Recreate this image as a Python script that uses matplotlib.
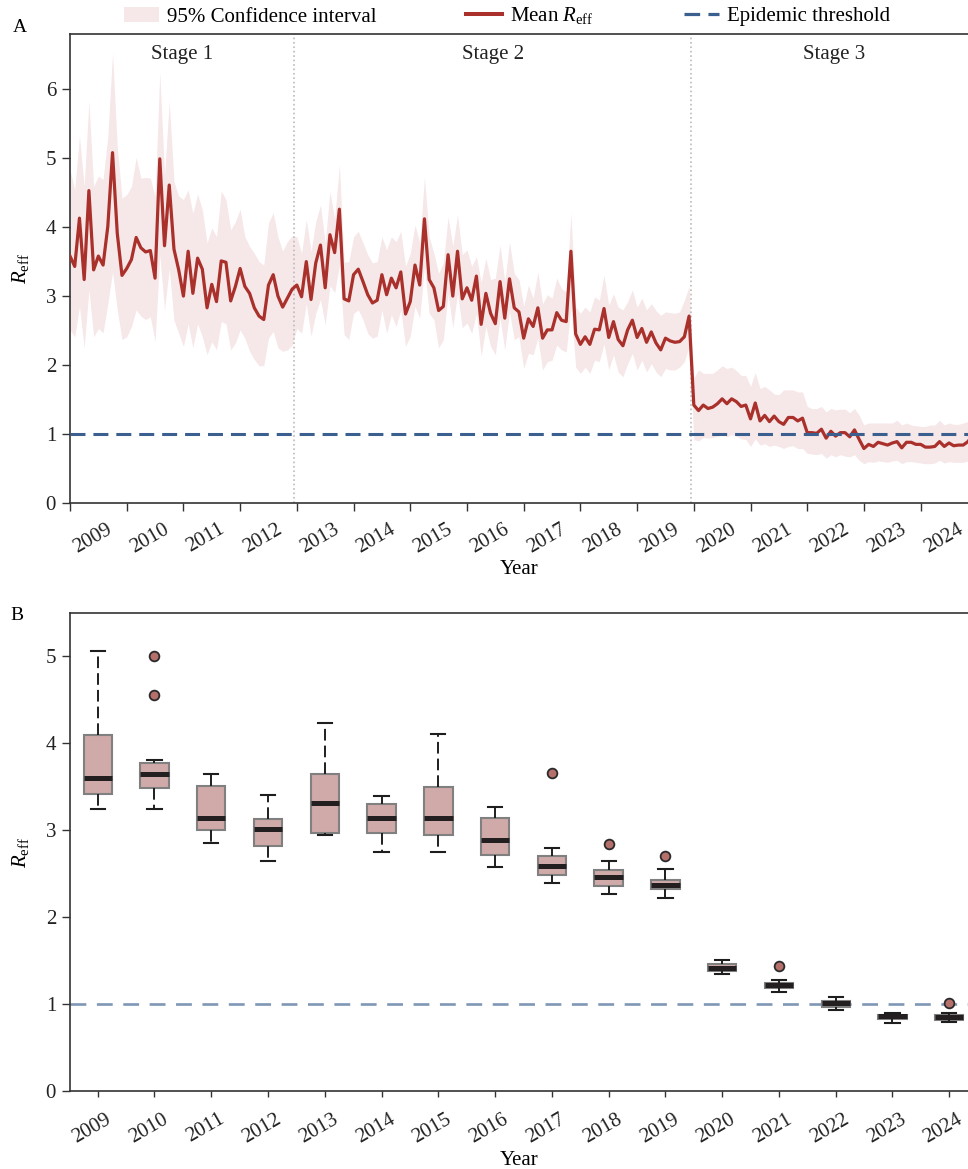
import matplotlib
matplotlib.use("Agg")
import matplotlib.pyplot as plt
import matplotlib.transforms as mtransforms
import numpy as np
from matplotlib.lines import Line2D
from matplotlib.patches import Patch

plt.rcParams["font.family"] = ["Liberation Serif", "DejaVu Serif"]
plt.rcParams["mathtext.fontset"] = "custom"
plt.rcParams["mathtext.rm"] = "Liberation Serif"
plt.rcParams["mathtext.it"] = "Liberation Serif:italic"

# monthly mean R_eff, Jan 2009 - Dec 2024 (one row per year)
mean_reff = [
    3.58, 3.43, 4.13, 3.24, 4.53, 3.38, 3.58, 3.45, 4.01, 5.08, 3.91, 3.30,
    3.40, 3.53, 3.85, 3.70, 3.64, 3.66, 3.26, 4.99, 3.73, 4.61, 3.68, 3.38,
    3.00, 3.65, 3.04, 3.55, 3.39, 2.83, 3.17, 2.92, 3.51, 3.49, 2.93, 3.14,
    3.40, 3.14, 3.04, 2.83, 2.71, 2.66, 3.16, 3.31, 3.00, 2.84, 2.97, 3.10,
    3.16, 2.99, 3.50, 2.95, 3.48, 3.74, 3.12, 3.89, 3.63, 4.26, 2.96, 2.93,
    3.31, 3.39, 3.21, 3.02, 2.90, 2.94, 3.31, 3.02, 3.26, 3.12, 3.35, 2.74,
    2.92, 3.45, 3.16, 4.12, 3.24, 3.12, 2.79, 2.85, 3.60, 3.00, 3.65, 2.96,
    3.12, 2.94, 3.29, 2.59, 3.04, 2.75, 2.60, 3.21, 2.68, 3.25, 2.83, 2.77,
    2.39, 2.67, 2.56, 2.83, 2.39, 2.51, 2.51, 2.76, 2.65, 2.63, 3.65, 2.45,
    2.30, 2.41, 2.30, 2.52, 2.51, 2.82, 2.40, 2.63, 2.37, 2.28, 2.51, 2.65,
    2.40, 2.53, 2.33, 2.48, 2.32, 2.22, 2.39, 2.35, 2.33, 2.34, 2.41, 2.71,
    1.42, 1.34, 1.42, 1.37, 1.39, 1.44, 1.51, 1.44, 1.51, 1.47, 1.40, 1.42,
    1.22, 1.45, 1.19, 1.27, 1.18, 1.26, 1.18, 1.14, 1.24, 1.24, 1.19, 1.23,
    1.02, 1.02, 1.01, 1.07, 0.94, 1.04, 0.97, 1.02, 1.02, 0.96, 1.06, 0.92,
    0.79, 0.85, 0.82, 0.88, 0.86, 0.84, 0.87, 0.89, 0.80, 0.88, 0.88, 0.85,
    0.85, 0.81, 0.81, 0.82, 0.89, 0.82, 0.87, 0.83, 0.84, 0.84, 0.89, 0.98,
]

ci_lower = [
    2.51, 2.41, 2.85, 2.25, 3.09, 2.41, 2.53, 2.47, 2.89, 3.35, 2.80, 2.37,
    2.41, 2.56, 2.80, 2.71, 2.66, 2.70, 2.34, 3.60, 2.80, 3.40, 2.65, 2.46,
    2.27, 2.60, 2.25, 2.60, 2.41, 2.15, 2.34, 2.22, 2.63, 2.60, 2.22, 2.32,
    2.51, 2.39, 2.20, 2.08, 1.99, 1.99, 2.39, 2.49, 2.25, 2.20, 2.22, 2.29,
    2.53, 2.46, 2.89, 2.42, 2.75, 2.95, 2.58, 3.15, 3.05, 3.45, 2.44, 2.37,
    2.75, 2.80, 2.66, 2.46, 2.39, 2.42, 2.80, 2.46, 2.73, 2.56, 2.80, 2.27,
    2.42, 2.85, 2.68, 3.43, 2.75, 2.66, 2.25, 2.37, 3.04, 2.54, 3.04, 2.54,
    2.61, 2.46, 2.75, 2.13, 2.56, 2.27, 2.15, 2.68, 2.22, 2.78, 2.37, 2.41,
    1.95, 2.17, 2.15, 2.39, 1.93, 2.05, 2.07, 2.29, 2.22, 2.19, 2.84, 1.97,
    1.88, 1.97, 1.88, 2.07, 2.05, 2.31, 1.93, 2.15, 1.90, 1.83, 2.02, 2.17,
    1.93, 2.07, 1.90, 2.02, 1.90, 1.83, 1.95, 1.93, 1.93, 1.97, 2.05, 2.27,
    0.92, 0.90, 0.95, 0.94, 0.95, 0.97, 1.00, 0.96, 0.99, 0.97, 0.93, 0.92,
    0.82, 0.93, 0.84, 0.86, 0.82, 0.84, 0.82, 0.79, 0.82, 0.83, 0.79, 0.79,
    0.72, 0.71, 0.70, 0.72, 0.65, 0.70, 0.67, 0.70, 0.68, 0.67, 0.70, 0.62,
    0.57, 0.60, 0.59, 0.61, 0.60, 0.59, 0.61, 0.62, 0.57, 0.60, 0.60, 0.59,
    0.58, 0.57, 0.57, 0.58, 0.62, 0.58, 0.60, 0.59, 0.59, 0.59, 0.61, 0.66,
]

ci_upper = [
    4.83, 4.54, 5.32, 4.59, 5.82, 4.59, 4.74, 4.69, 5.31, 6.52, 5.17, 4.42,
    4.47, 4.59, 5.01, 4.71, 4.72, 4.71, 4.44, 6.25, 4.75, 5.82, 4.66, 4.45,
    4.40, 4.54, 4.20, 4.48, 4.25, 3.77, 3.99, 3.86, 4.52, 4.40, 3.96, 4.08,
    4.26, 3.86, 3.72, 3.62, 3.50, 3.45, 4.06, 4.21, 3.86, 3.65, 3.79, 3.87,
    3.86, 3.62, 4.11, 3.65, 4.08, 4.32, 3.77, 4.52, 4.11, 4.90, 3.49, 3.50,
    3.86, 3.94, 3.77, 3.60, 3.48, 3.50, 3.86, 3.67, 3.86, 3.79, 3.94, 3.43,
    3.62, 4.03, 3.77, 4.73, 3.86, 3.62, 3.33, 3.48, 4.15, 3.72, 4.18, 3.60,
    3.67, 3.43, 3.57, 3.20, 3.55, 3.24, 3.26, 3.74, 3.21, 3.78, 3.33, 3.24,
    2.85, 3.16, 2.97, 3.35, 2.89, 3.02, 2.97, 3.26, 3.11, 3.06, 4.20, 2.84,
    2.75, 2.84, 2.77, 2.99, 2.94, 3.30, 2.87, 3.03, 2.84, 2.80, 2.92, 3.09,
    2.84, 2.97, 2.80, 2.89, 2.79, 2.72, 2.77, 2.76, 2.75, 2.77, 2.94, 3.14,
    1.81, 1.93, 1.88, 1.88, 1.88, 1.93, 1.99, 1.95, 1.97, 1.92, 1.85, 1.85,
    1.69, 1.89, 1.66, 1.69, 1.64, 1.58, 1.57, 1.64, 1.64, 1.64, 1.61, 1.61,
    1.40, 1.37, 1.37, 1.40, 1.32, 1.37, 1.35, 1.36, 1.36, 1.31, 1.37, 1.27,
    1.13, 1.16, 1.16, 1.16, 1.16, 1.16, 1.16, 1.20, 1.13, 1.16, 1.13, 1.12,
    1.11, 1.11, 1.13, 1.13, 1.20, 1.13, 1.16, 1.14, 1.14, 1.16, 1.18, 1.25,
]

years = list(range(2009, 2025))
stage_breaks = [2012.958, 2019.958]
stage_names = ["Stage 1", "Stage 2", "Stage 3"]

# yearly box statistics for panel B
box_median = [3.60, 3.65, 3.145, 3.02, 3.31, 3.14, 3.145, 2.89,
              2.59, 2.46, 2.37, 1.42, 1.22, 1.01, 0.86, 0.85]
box_q1 = [3.42, 3.48, 3.00, 2.82, 2.97, 2.97, 2.95, 2.71,
          2.49, 2.36, 2.33, 1.38, 1.19, 0.97, 0.83, 0.82]
box_q3 = [4.09, 3.77, 3.51, 3.13, 3.65, 3.30, 3.50, 3.14,
          2.70, 2.54, 2.43, 1.46, 1.25, 1.04, 0.88, 0.88]
box_whislo = [3.24, 3.24, 2.85, 2.65, 2.94, 2.75, 2.75, 2.58,
              2.39, 2.27, 2.22, 1.35, 1.145, 0.93, 0.79, 0.80]
box_whishi = [5.06, 3.81, 3.65, 3.40, 4.23, 3.39, 4.11, 3.27,
              2.80, 2.65, 2.55, 1.51, 1.28, 1.08, 0.90, 0.90]
box_fliers = [[], [5.00, 4.55], [], [], [], [], [], [],
              [3.66], [2.84], [2.70], [], [1.44], [], [], [1.02]]

RED = "#A9302B"
CI_COLOR = "#F6E7E8"
BLUE = "#3B5F8E"
SPINE = "#333333"
FS = 15


def style_axes(ax) -> None:
    """Common spine and tick styling."""
    ax.spines["right"].set_visible(False)
    for side in ("left", "top", "bottom"):
        ax.spines[side].set_color(SPINE)
        ax.spines[side].set_linewidth(1.2)
    ax.tick_params(axis="y", length=6, width=1.0, pad=4,
                   labelsize=FS, color=SPINE, labelcolor="#222222")


def panel_a(fig) -> None:
    """Monthly R_eff time series with confidence band."""
    ax = fig.add_axes([70 / 968, 1 - 503 / 1169, 898 / 968, 469 / 1169])
    t = 2009 + np.arange(len(mean_reff)) / 12
    ax.fill_between(t, ci_lower, ci_upper, color=CI_COLOR, lw=0, zorder=1)
    ax.plot(t, mean_reff, color=RED, lw=2.3, zorder=3)
    for b in stage_breaks:
        ax.axvline(b, color="#BBBBBB", ls=":", lw=1.2, zorder=2)
    ax.axhline(1.0, color=BLUE, lw=2.2, ls=(0, (4.9, 2.6)), zorder=4)

    bounds = [2009] + stage_breaks + [2025]
    for i, name in enumerate(stage_names):
        ax.text((bounds[i] + bounds[i + 1]) / 2, 6.5, name, ha="center",
                va="center", fontsize=FS, color="#222222")

    ax.set_xlim(2009, 2024.835)
    ax.set_ylim(0, 6.8)
    ax.set_yticks(range(7))
    ax.set_xticks(years)
    ax.set_xticklabels([str(y) for y in years], rotation=30, ha="left")
    style_axes(ax)
    ax.tick_params(axis="x", length=6, width=1.0, pad=6,
                   labelsize=FS, color=SPINE, labelcolor="#222222")
    ax.set_xlabel("Year", fontsize=FS)
    ax.xaxis.set_label_coords(0.5, -0.121)
    ax.set_ylabel(r"$R_{\mathrm{eff}}$", fontsize=FS)
    ax.yaxis.set_label_coords(-0.043, 0.5)

    handles = [
        Patch(facecolor=CI_COLOR, edgecolor="none"),
        Line2D([], [], color=RED, lw=2.9),
        Line2D([], [], color=BLUE, lw=2.3, ls=(0, (4.9, 2.6))),
    ]
    labels = ["95% Confidence interval", r"Mean $R_{\mathrm{eff}}$",
              "Epidemic threshold"]
    ax.legend(handles, labels, loc="center", ncol=3, frameon=False,
              fontsize=FS, handlelength=1.7, handletextpad=0.4,
              columnspacing=4.3,
              bbox_to_anchor=(507 / 968, 1 - 16 / 1169),
              bbox_transform=fig.transFigure)


def panel_b(fig) -> None:
    """Yearly boxplots of R_eff."""
    ax = fig.add_axes([70 / 968, 1 - 1091.3 / 1169, 898 / 968,
                       478.6 / 1169])
    stats = []
    for i, y in enumerate(years):
        stats.append(dict(med=box_median[i], q1=box_q1[i], q3=box_q3[i],
                          whislo=box_whislo[i], whishi=box_whishi[i],
                          fliers=box_fliers[i], label=str(y)))
    ax.axhline(1.0, color=BLUE, alpha=0.65, lw=1.9,
               ls=(0, (6.0, 4.0)), zorder=1)
    ax.bxp(stats, positions=range(len(years)), widths=0.5,
           patch_artist=True, manage_ticks=False,
           boxprops=dict(facecolor="#CFAAA8", edgecolor="#808080", lw=1.5),
           medianprops=dict(color="#231F20", lw=3.6, solid_capstyle="butt"),
           whiskerprops=dict(color="#1E1E1E", lw=1.4, ls=(0, (6.0, 2.6))),
           capprops=dict(color="#1E1E1E", lw=1.5),
           flierprops=dict(marker="o", markersize=7, markerfacecolor="#B5706B",
                           markeredgecolor="#2A2A2A", markeredgewidth=1.3))
    ax.set_xlim(-0.488, 15.33)
    ax.set_ylim(0, 5.5)
    ax.set_yticks(range(6))
    ax.set_xticks(range(len(years)))
    style_axes(ax)
    ax.tick_params(axis="x", length=4.3, width=1.0, pad=9,
                   labelsize=FS, color=SPINE, labelcolor="#222222")
    ax.set_xticklabels([str(y) for y in years], rotation=30, ha="center")
    # labels sit a few pixels left of their ticks in the original
    shift = mtransforms.ScaledTranslation(-6 / 100, 0, fig.dpi_scale_trans)
    for lab in ax.get_xticklabels():
        lab.set_transform(lab.get_transform() + shift)
    ax.set_xlabel("Year", fontsize=FS)
    ax.xaxis.set_label_coords(0.5, -0.124)
    ax.set_ylabel(r"$R_{\mathrm{eff}}$", fontsize=FS)
    ax.yaxis.set_label_coords(-0.043, 0.5)


if __name__ == "__main__":
    fig = plt.figure(figsize=(9.68, 11.69), dpi=100)
    panel_a(fig)
    panel_b(fig)
    fig.text(13 / 968, 1 - 27 / 1169, "A", fontsize=14, va="center")
    fig.text(10 / 968, 1 - 616 / 1169, "B", fontsize=14, va="center")
    fig.savefig("out.png", dpi=100)
